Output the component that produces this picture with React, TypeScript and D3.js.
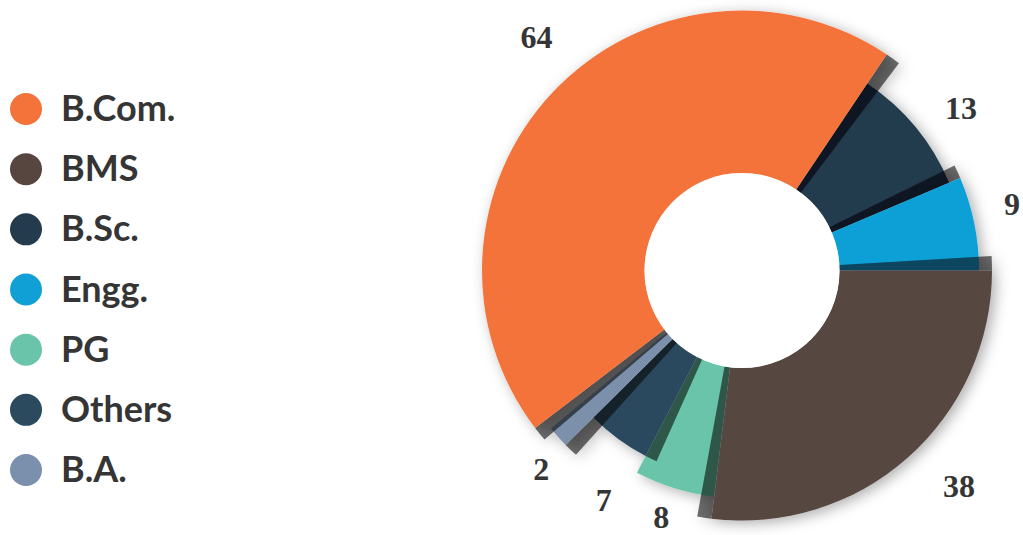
import React from 'react';
import * as d3 from 'd3';

// ---------- data ----------
const categories = ['B.Com.', 'BMS', 'B.Sc.', 'Engg.', 'PG', 'Others', 'B.A.'];
const values = [64, 38, 13, 9, 8, 7, 2];
const colors = ['#F3733A', '#574640', '#243A4D', '#11A0D6', '#69C4A9', '#2B4A5E', '#7B90AC'];
// order of the slices clockwise from 3 o'clock
const ringOrder = ['BMS', 'PG', 'Others', 'B.A.', 'B.Com.', 'B.Sc.', 'Engg.'];

// ---------- style / layout ----------
const W = 1023;
const H = 535;
const CX = 742;
const CY = 270.5;
const INNER = 97.5;
const outerR: Record<string, number> = {
  'B.Com.': 260, BMS: 250, 'B.Sc.': 225, 'Engg.': 237, PG: 228, Others: 209, 'B.A.': 248,
};
// drawing (elevation) order: later = on top, casting shadow on neighbours
const elevation = ['B.Sc.', 'PG', 'Engg.', 'Others', 'B.A.', 'BMS', 'B.Com.'];
const shadowSides: Record<string, string[]> = {
  'Engg.': ['start'], Others: ['start'], 'B.A.': ['start'], BMS: ['start', 'end'], 'B.Com.': ['start', 'end'],
};
// visual inset (degrees) of a slice's start edge, the gap being filled by its shadow
const startInset: Record<string, number> = { 'B.Com.': 2.3 };
const SHADOW_W = (3.3 * Math.PI) / 180;
// label placement: [angle nudge in degrees, radius]
const labelPlace: Record<string, [number, number]> = {
  'B.Com.': [6.5, 311], BMS: [-3.7, 306], 'B.Sc.': [2.9, 273], 'Engg.': [-2.3, 278],
  PG: [0.9, 259.5], Others: [-5.3, 268], 'B.A.': [-2.5, 282],
};
const TEXT = '#353535';
const deg = Math.PI / 180;

export default function App() {
  const valueOf = (n: string) => values[categories.indexOf(n)];
  const colorOf = (n: string) => colors[categories.indexOf(n)];

  const pie = d3
    .pie<string>()
    .sort(null)
    .value((n) => valueOf(n))
    .startAngle(Math.PI / 2)
    .endAngle(Math.PI / 2 + 2 * Math.PI);
  const slices = pie(ringOrder);
  const byName: Record<string, d3.PieArcDatum<string>> = {};
  slices.forEach((s) => (byName[s.data] = s));

  const arc = d3.arc<any>();
  const path = (r: number, a0: number, a1: number) =>
    arc({ innerRadius: INNER, outerRadius: r, startAngle: a0, endAngle: a1 }) as string;

  const legendY = d3.scalePoint<string>().domain(categories).range([109, 470]);

  return (
    <svg
      width={W}
      height={H}
      style={{ position: 'absolute', left: 0, top: 0, display: 'block', background: '#fff' }}
    >
      <defs>
        <filter id="soft" x="-20%" y="-20%" width="140%" height="140%">
          <feDropShadow dx="4" dy="3" stdDeviation="7" floodColor="#000" floodOpacity="0.32" />
        </filter>
      </defs>

      {/* legend */}
      <g>
        {categories.map((c, i) => (
          <g key={c} transform={`translate(0,${legendY(c)})`}>
            <circle cx={26} cy={0} r={16} fill={colors[i]} />
            <text
              x={61}
              y={12}
              fill={TEXT}
              style={{ font: 'bold 36px Lato, "Open Sans", sans-serif' }}
            >
              {c}
            </text>
          </g>
        ))}
      </g>

      {/* ring */}
      <g transform={`translate(${CX},${CY})`}>
        <g filter="url(#soft)">
          {elevation.map((n) => {
            const s = byName[n];
            const r = outerR[n];
            const a0s = s.startAngle + (startInset[n] || 0) * deg;
            const sides = shadowSides[n] || [];
            return (
              <g key={n}>
                {sides.map((side) => {
                  const a0 = side === 'start' ? a0s - SHADOW_W : s.endAngle;
                  const a1 = side === 'start' ? a0s : s.endAngle + SHADOW_W;
                  return <path key={side} d={path(r, a0, a1)} fill="#000" fillOpacity={0.56} />;
                })}
                <path d={path(r, a0s, s.endAngle)} fill={colorOf(n)} />
              </g>
            );
          })}
        </g>
        <circle r={INNER} fill="#fff" />

        {/* value labels */}
        {slices.map((s) => {
          const [nudge, lr] = labelPlace[s.data];
          const a = (s.startAngle + s.endAngle) / 2 + nudge * deg;
          return (
            <text
              key={s.data}
              x={lr * Math.sin(a)}
              y={-lr * Math.cos(a)}
              dy="0.35em"
              textAnchor="middle"
              fill={TEXT}
              style={{ font: 'bold 32px "Liberation Serif", serif' }}
            >
              {valueOf(s.data)}
            </text>
          );
        })}
      </g>
    </svg>
  );
}
